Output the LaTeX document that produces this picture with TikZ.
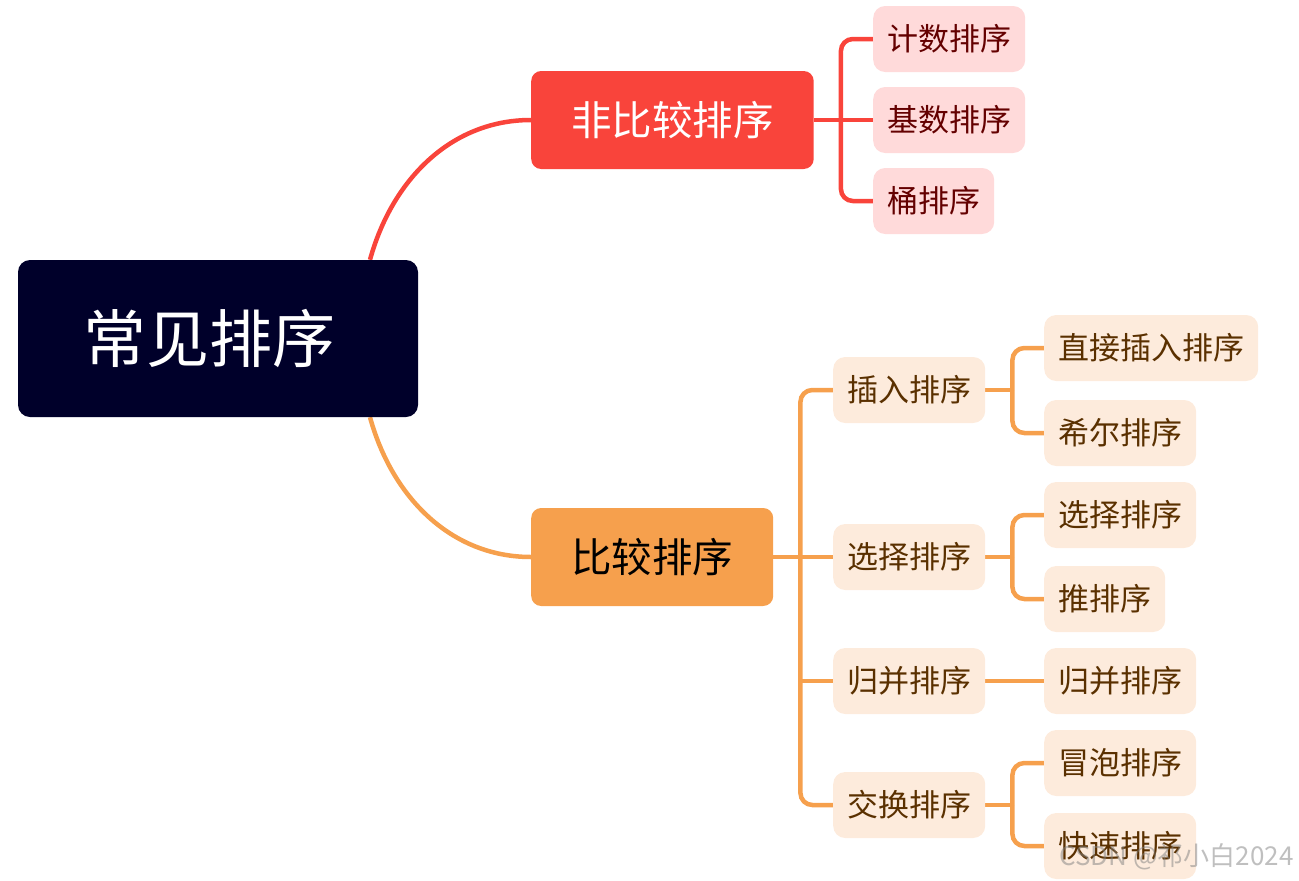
\documentclass[tikz,border=0pt]{standalone}
\usepackage{fontspec}
\setmainfont{Noto Sans CJK SC}
\usetikzlibrary{backgrounds}
\definecolor{rootc}{HTML}{00002A}
\definecolor{redc}{HTML}{F9443B}
\definecolor{orgc}{HTML}{F6A04D}
\definecolor{pinkc}{HTML}{FFDADA}
\definecolor{darkredc}{HTML}{640000}
\definecolor{peachc}{HTML}{FDEBDC}
\definecolor{brownc}{HTML}{5A3000}
\begin{document}
\begin{tikzpicture}[x=1pt,y=-1pt,
  rootbox/.style={fill=rootc, text=white, rounded corners=12pt, minimum width=400pt, minimum height=157pt, inner sep=0pt, font=\fontsize{63}{63}\selectfont},
  lonered/.style={fill=redc, text=white, rounded corners=10pt, minimum height=98pt, inner xsep=40pt, inner ysep=0pt, font=\fontsize{40.5}{40.5}\selectfont},
  loneorg/.style={fill=orgc, text=black, rounded corners=10pt, minimum height=98pt, inner xsep=40pt, inner ysep=0pt, font=\fontsize{40.5}{40.5}\selectfont},
  leafred/.style={fill=pinkc, text=darkredc, rounded corners=12pt, minimum height=66pt, inner xsep=14pt, inner ysep=0pt, anchor=west, font=\fontsize{31}{31}\selectfont},
  leaforg/.style={fill=peachc, text=brownc, rounded corners=12pt, minimum height=66pt, inner xsep=14pt, inner ysep=0pt, anchor=west, font=\fontsize{31}{31}\selectfont},
  redline/.style={draw=redc, line width=4.5pt, rounded corners=12pt},
  orgline/.style={draw=orgc, line width=4.5pt, rounded corners=12pt}]
\useasboundingbox (0,0) rectangle (1299,881);

% nodes
\node[rootbox] (root) at (218,338.5) {\raisebox{-3pt}{常见排序}\hspace*{18pt}};
\node[lonered, anchor=west] (nonc) at (531,120) {非比较排序};
\node[loneorg, anchor=west] (cmp) at (531,557) {比较排序};

\node[leafred] (r1) at (873,39) {计数排序};
\node[leafred] (r2) at (873,120) {基数排序};
\node[leafred] (r3) at (873,201) {桶排序};

\node[leaforg] (c1) at (833,390) {插入排序};
\node[leaforg] (c2) at (833,557) {选择排序};
\node[leaforg] (c3) at (833,681) {归并排序};
\node[leaforg] (c4) at (833,805) {交换排序};

\node[leaforg] (d1) at (1044,348) {直接插入排序};
\node[leaforg] (d2) at (1044,433) {希尔排序};
\node[leaforg] (d3) at (1044,515) {选择排序};
\node[leaforg] (d4) at (1044,599) {推排序};
\node[leaforg] (d5) at (1044,681) {归并排序};
\node[leaforg] (d6) at (1044,763) {冒泡排序};
\node[leaforg] (d7) at (1044,846) {快速排序};

\node[anchor=east, text=gray, opacity=0.5, font=\fontsize{26}{26}\selectfont] (wm) at (1297,857) {CSDN @祁小白2024};

% junction points
\coordinate (jr) at ([xshift=27pt]nonc.east);
\coordinate (jc) at ([xshift=27pt]cmp.east);
\coordinate (j1) at ([xshift=27pt]c1.east);
\coordinate (j2) at ([xshift=27pt]c2.east);
\coordinate (j4) at ([xshift=27pt]c4.east);

% connectors
\begin{scope}[on background layer]
\draw[redline] ([xshift=152pt]root.north) .. controls +(22,-80) and +(-80,0) .. (nonc.west);
\draw[orgline] ([xshift=152pt]root.south) .. controls +(22,80) and +(-80,0) .. (cmp.west);

\draw[redline] (nonc.east) -- (r2.west);
\draw[redline] (r1.west) -| (jr);
\draw[redline] (r3.west) -| (jr);

\draw[orgline] (cmp.east) -- (c2.west);
\draw[orgline] (c1.west) -| (jc);
\draw[orgline] (c4.west) -| (jc);
\draw[orgline] (c3.west -| jc) -- (c3.west);

\draw[orgline] (c1.east) -- (j1);
\draw[orgline] (d1.west) -| (j1);
\draw[orgline] (d2.west) -| (j1);

\draw[orgline] (c2.east) -- (j2);
\draw[orgline] (d3.west) -| (j2);
\draw[orgline] (d4.west) -| (j2);

\draw[orgline] (c3.east) -- (d5.west);

\draw[orgline] (c4.east) -- (j4);
\draw[orgline] (d6.west) -| (j4);
\draw[orgline] (d7.west) -| (j4);
\end{scope}
\end{tikzpicture}
\end{document}
